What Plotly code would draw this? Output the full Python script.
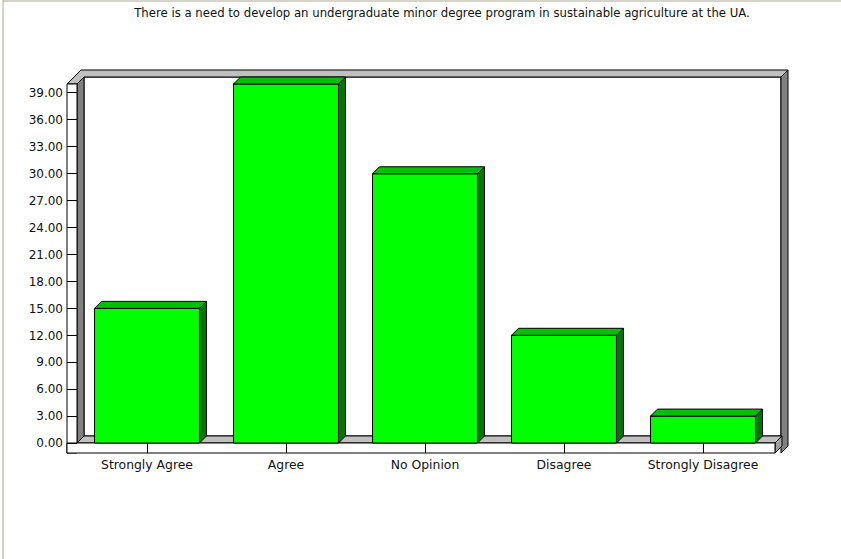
import plotly.graph_objects as go

# ---- data ----
categories = ["Strongly Agree", "Agree", "No Opinion", "Disagree", "Strongly Disagree"]
values = [15, 40, 30, 12, 3]
y_ticks = list(range(0, 40, 3))
title_text = "There is a need to develop an undergraduate minor degree program in sustainable agriculture at the UA."

# ---- layout geometry (pixels) ----
W, H = 841, 559
L, R, T, B = 67, 788, 70, 453          # plot area (whole 3D frame)
CX0, CSTEP = 147.0, 139.0               # px of first category centre, px per category
Y0PX, PPU = 443.0, 8.975                # px of value 0, px per unit
DEPTH = 7.0                             # 3D depth in px
BAR_W = 0.755
TITLE_CX, TITLE_CY = 442, 13

xr0, xr1 = (L - CX0) / CSTEP, (R - CX0) / CSTEP
yr0, yr1 = (Y0PX - B) / PPU, (Y0PX - T) / PPU
dx, dy = DEPTH / CSTEP, DEPTH / PPU


def fx(px):
    return (px - L) / (R - L)


def fy(py):
    return (B - py) / (B - T)


def poly(points, fill, line="black", layer="below"):
    d = "M " + " L ".join(f"{fx(x):.5f},{fy(y):.5f}" for x, y in points) + " Z"
    return dict(type="path", path=d, xref="paper", yref="paper",
                fillcolor=fill, line=dict(color=line, width=1), layer=layer)


shapes = [
    # back wall
    poly([(84, 77), (781, 77), (781, 436), (84, 436)], "white"),
    # top band (column top + back wall top)
    poly([(67, 84), (81, 70), (788, 70), (781, 77), (84, 77), (77, 84)], "#C0C0C0"),
    # left inner wall
    poly([(77, 84), (84, 77), (84, 436), (77, 443)], "#808080"),
    # right wall
    poly([(781, 77), (788, 70), (788, 446), (781, 453), (781, 77)], "#808080"),
    # floor top
    poly([(77, 443), (84, 436), (782, 436), (775, 443)], "#C0C0C0"),
    # floor strip end face
    poly([(775, 443), (782, 436), (782, 446), (775, 453)], "#A0A0A0"),
    # front axis column
    poly([(67, 84), (77, 84), (77, 453), (67, 453)], "white"),
    # floor front strip
    poly([(67, 443), (775, 443), (775, 453), (67, 453)], "white"),
]

# outer page border (left and top)
shapes.append(dict(type="line", xref="paper", yref="paper",
                   x0=fx(3), x1=fx(3), y0=fy(0), y1=fy(H),
                   line=dict(color="#ACA899", width=1), layer="below"))
shapes.append(dict(type="line", xref="paper", yref="paper",
                   x0=fx(3), x1=fx(W), y0=fy(1), y1=fy(1),
                   line=dict(color="#ACA899", width=1), layer="below"))

xs = list(range(len(categories)))

# 3D faces of bars derived from values
side_x, side_y, top_x, top_y = [], [], [], []
for i, v in zip(xs, values):
    xl, xr = i - BAR_W / 2, i + BAR_W / 2
    side_x += [xr, xr, xr + dx, xr + dx, xr, None]
    side_y += [0, v, v + dy, dy, 0, None]
    top_x += [xl, xr, xr + dx, xl + dx, xl, None]
    top_y += [v, v, v + dy, v + dy, v, None]

fig = go.Figure()
fig.add_trace(go.Bar(x=xs, y=values, width=BAR_W,
                     marker=dict(color="#00FF00", line=dict(color="black", width=1)),
                     hoverinfo="skip"))
fig.add_trace(go.Scatter(x=side_x, y=side_y, mode="lines", fill="toself",
                         fillcolor="#007800", line=dict(color="black", width=1),
                         hoverinfo="skip"))
fig.add_trace(go.Scatter(x=top_x, y=top_y, mode="lines", fill="toself",
                         fillcolor="#00C000", line=dict(color="black", width=1),
                         hoverinfo="skip"))

font_family = "DejaVu Sans, Verdana, sans-serif"

fig.update_layout(
    width=W, height=H,
    margin=dict(l=L, r=W - R, t=T, b=H - B, pad=0),
    paper_bgcolor="white", plot_bgcolor="white",
    showlegend=False,
    shapes=shapes,
    font=dict(family=font_family, size=12, color="#111111"),
    title=dict(text=title_text, x=fx(TITLE_CX), xanchor="center", xref="paper",
               y=1 - TITLE_CY / H, yanchor="middle", yref="container",
               font=dict(family=font_family, size=11.7, color="#111111")),
    xaxis=dict(range=[xr0, xr1], tickvals=xs, ticktext=categories,
               ticks="inside", ticklen=10, tickcolor="black", tickwidth=1,
               showgrid=False, zeroline=False, showline=False,
               tickfont=dict(size=12.4), ticklabelstandoff=3),
    yaxis=dict(range=[yr0, yr1], tickvals=y_ticks, tickformat=".2f",
               ticks="inside", ticklen=10, tickcolor="black", tickwidth=1,
               showgrid=False, zeroline=False, showline=False,
               tickfont=dict(size=12), ticklabelstandoff=3),
)

fig.write_html("out.html",
               config={"displayModeBar": False, "staticPlot": True},
               post_script="document.body.style.margin='0';document.body.style.overflow='hidden';")
